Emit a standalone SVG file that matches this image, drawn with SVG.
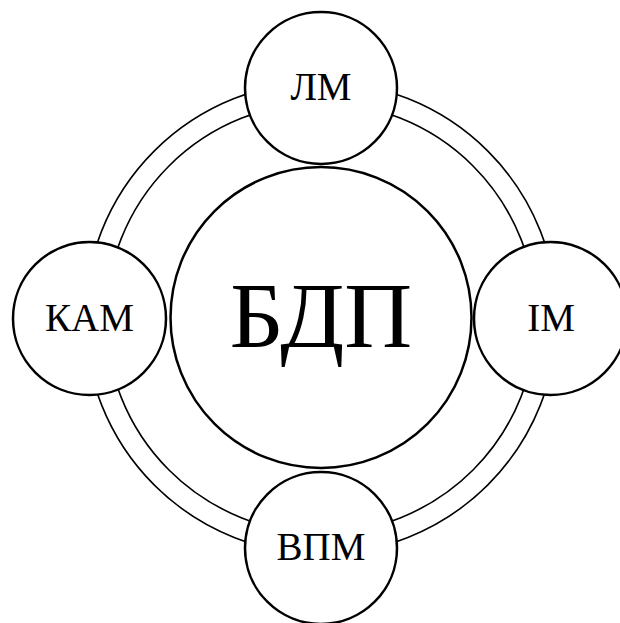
<svg xmlns="http://www.w3.org/2000/svg" width="620" height="623" viewBox="0 0 620 623">
<style>
.node{fill:#fff;stroke:#000;stroke-width:2.5}
.ring{fill:none;stroke:#000;stroke-width:1.6}
.t{font-family:'Liberation Serif','Times New Roman',serif;fill:#000;text-anchor:middle}
.s{font-size:39px}
.b{font-size:94px}
</style>
<rect width="620" height="623" fill="#fff"/>
<g id="connectors">
<circle class="ring" cx="321" cy="318" r="236"/>
<circle class="ring" cx="321" cy="318" r="215"/>
</g>
<g id="bdp">
<circle class="node" cx="321" cy="317.5" r="150.5"/>
<text class="t b" x="321" y="347">БДП</text>
</g>
<g id="lm">
<circle class="node" cx="321" cy="88" r="76"/>
<text class="t s" x="321" y="100">ЛМ</text>
</g>
<g id="kam">
<circle class="node" cx="89.5" cy="318.5" r="76.5"/>
<text class="t s" x="89.5" y="331">КАМ</text>
</g>
<g id="im">
<circle class="node" cx="550.5" cy="318.5" r="76.5"/>
<text class="t s" x="551" y="331">ІМ</text>
</g>
<g id="vpm">
<circle class="node" cx="321" cy="548" r="76"/>
<text class="t s" x="321" y="560">ВПМ</text>
</g>
</svg>
